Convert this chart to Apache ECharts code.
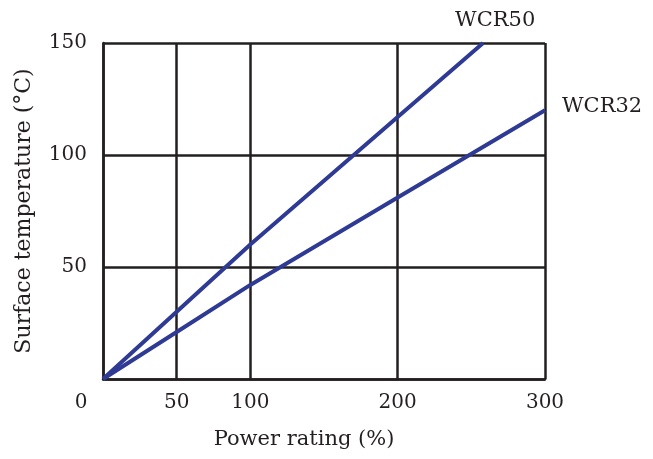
<!DOCTYPE html>
<html>
<head>
<meta charset="utf-8">
<script src="https://cdn.jsdelivr.net/npm/echarts@6/dist/echarts.min.js"></script>
<style>
html,body{margin:0;padding:0;background:#fff;}
#chart{width:653px;height:459px;}
</style>
</head>
<body>
<div id="chart"></div>
<script>
// Data
var xTicks = [0, 50, 100, 200, 300];
var yTicks = [50, 100, 150];
var wcr50X = [0, 50, 100, 200, 258];
var wcr50Y = [0, 30, 60, 117, 150];
var wcr32X = [0, 50, 100, 200, 300];
var wcr32Y = [0, 21, 42, 81, 120];

var INK = '#231f20';
var BLUE = '#2e3a94';
var FONT = 'DejaVu Serif';

function pairs(xs, ys) { return xs.map(function (x, i) { return [x, ys[i]]; }); }
function gridColors(min, max, step, ticks) {
  var c = [];
  for (var v = min; v <= max; v += step) c.push(ticks.indexOf(v) >= 0 ? INK : 'rgba(0,0,0,0)');
  return c;
}

var chart = echarts.init(document.getElementById('chart'));
chart.setOption({
  animation: false,
  backgroundColor: '#fff',
  grid: { left: 103, right: 108, top: 43, bottom: 80 },
  xAxis: {
    type: 'value', min: 0, max: 300, interval: 50,
    name: 'Power rating (%)', nameLocation: 'middle', nameGap: 50,
    nameTextStyle: { fontFamily: FONT, fontSize: 21, color: INK, padding: [0, 40, 0, 0] },
    axisLine: { show: true, lineStyle: { color: INK, width: 2.5 } },
    axisTick: { show: false },
    axisLabel: {
      margin: 14, fontFamily: FONT, fontSize: 20, color: INK,
      formatter: function (v) { return xTicks.indexOf(v) < 0 ? '' : (v === 0 ? '{z|0}' : String(v)); },
      rich: { z: { fontFamily: FONT, fontSize: 20, color: INK, padding: [0, 44, 0, 0] } }
    },
    splitLine: { show: true, lineStyle: { color: gridColors(0, 300, 50, xTicks), width: 2.5 } }
  },
  yAxis: {
    type: 'value', min: 0, max: 150, interval: 50,
    name: 'Surface temperature (°C)', nameLocation: 'middle', nameGap: 68,
    nameTextStyle: { fontFamily: FONT, fontSize: 22, color: INK },
    axisLine: { show: true, lineStyle: { color: INK, width: 2.5 } },
    axisTick: { show: false },
    axisLabel: {
      margin: 16, fontFamily: FONT, fontSize: 20, color: INK,
      formatter: function (v) { return yTicks.indexOf(v) < 0 ? '' : String(v); }
    },
    splitLine: { show: true, lineStyle: { color: gridColors(0, 150, 50, [0].concat(yTicks)), width: 2.5 } }
  },
  series: [
    {
      name: 'WCR50', type: 'line', data: pairs(wcr50X, wcr50Y),
      symbol: 'none', z: 5,
      lineStyle: { color: BLUE, width: 4 },
      endLabel: { show: true, formatter: 'WCR50', fontFamily: FONT, fontSize: 21, color: INK, offset: [-36, -22] }
    },
    {
      name: 'WCR32', type: 'line', data: pairs(wcr32X, wcr32Y),
      symbol: 'none', z: 5,
      lineStyle: { color: BLUE, width: 4 },
      endLabel: { show: true, formatter: 'WCR32', fontFamily: FONT, fontSize: 21, color: INK, distance: 17, offset: [0, -4] }
    }
  ]
});
</script>
</body>
</html>
